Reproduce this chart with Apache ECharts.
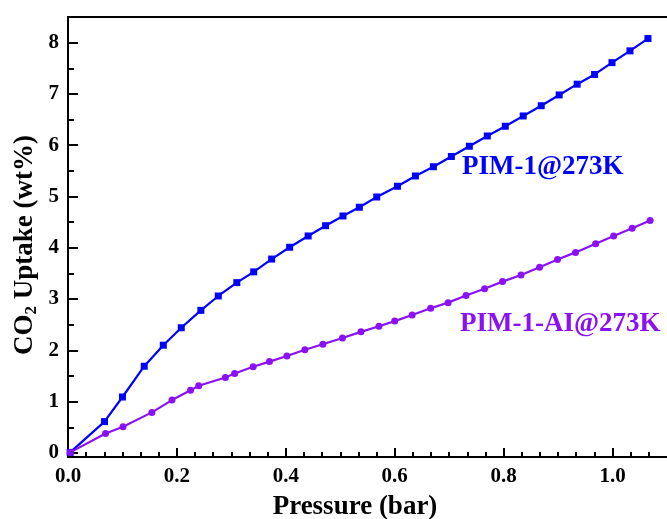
<!DOCTYPE html>
<html>
<head>
<meta charset="utf-8">
<script src="https://cdn.jsdelivr.net/npm/echarts@6/dist/echarts.min.js"></script>
<style>
  html, body { margin: 0; padding: 0; background: #ffffff; }
  #chart { width: 667px; height: 519px; }
</style>
</head>
<body>
<div id="chart"></div>
<script>
// CO2 adsorption isotherms at 273 K
const pim1Pressure = [0.004, 0.067, 0.100, 0.140, 0.175, 0.208, 0.244, 0.276, 0.310, 0.341,
  0.374, 0.407, 0.441, 0.473, 0.505, 0.535, 0.567, 0.605, 0.638, 0.671, 0.704, 0.737,
  0.770, 0.803, 0.836, 0.869, 0.902, 0.935, 0.967, 0.999, 1.032, 1.065];
const pim1Uptake = [0.01, 0.61, 1.09, 1.69, 2.10, 2.44, 2.78, 3.06, 3.32, 3.53,
  3.78, 4.01, 4.23, 4.43, 4.62, 4.79, 4.99, 5.20, 5.40, 5.58, 5.78, 5.98,
  6.18, 6.37, 6.57, 6.77, 6.98, 7.19, 7.38, 7.61, 7.84, 8.08];

const aiPressure = [0.004, 0.069, 0.101, 0.154, 0.191, 0.225, 0.240, 0.289, 0.306, 0.340,
  0.370, 0.402, 0.435, 0.468, 0.504, 0.538, 0.571, 0.600, 0.632, 0.666, 0.698, 0.731,
  0.765, 0.798, 0.832, 0.866, 0.899, 0.932, 0.969, 1.002, 1.036, 1.069];
const aiUptake = [0.01, 0.38, 0.51, 0.79, 1.03, 1.22, 1.31, 1.47, 1.55, 1.68,
  1.78, 1.89, 2.01, 2.12, 2.24, 2.36, 2.47, 2.57, 2.69, 2.82, 2.93, 3.07,
  3.20, 3.34, 3.47, 3.62, 3.77, 3.91, 4.08, 4.23, 4.38, 4.53];

// Axis ticks
const xMajorTicks = [0.0, 0.2, 0.4, 0.6, 0.8, 1.0];
const xMinorPerMajor = 6;
const yMajorTicks = [0, 1, 2, 3, 4, 5, 6, 7, 8];
const yMinorTicks = [0.5, 1.5, 2.5, 3.5, 4.5, 5.5, 6.5, 7.5];

const xRange = [0, 1.1];
const yRange = [-0.08, 8.5];

const FONT = "'Liberation Serif', 'Times New Roman', serif";
const BLUE = '#0000ff';
const VIOLET = '#8a10f6';

// minor x ticks: subdivide each 0.2 step, continuing past the last label
const xMinorTicks = [];
for (let i = 0; i < xMajorTicks.length; i++) {
  const step = 0.2 / xMinorPerMajor;
  for (let k = 1; k < xMinorPerMajor; k++) {
    const v = +(xMajorTicks[i] + k * step).toFixed(5);
    if (v < xRange[1]) xMinorTicks.push(v);
  }
}

const zip = (xs, ys) => xs.map((x, i) => [x, ys[i]]);

const axisLineStyle = { color: '#000', width: 2 };

const chart = echarts.init(document.getElementById('chart'), null, { renderer: 'canvas' });

chart.setOption({
  backgroundColor: '#ffffff',
  animation: false,
  grid: { left: 68, right: -1, top: 17, bottom: 62, containLabel: false },
  xAxis: [
    {
      type: 'value', position: 'bottom', min: xRange[0], max: xRange[1],
      axisLine: { show: true, onZero: false, lineStyle: axisLineStyle },
      axisTick: { show: true, inside: true, length: 9, lineStyle: { color: '#000', width: 2 },
        customValues: xMajorTicks },
      axisLabel: { show: true, customValues: xMajorTicks, margin: 9,
        fontFamily: FONT, fontWeight: 'bold', fontSize: 21, color: '#000',
        formatter: v => v.toFixed(1) },
      splitLine: { show: false }
    },
    {
      // minor ticks on the bottom axis
      type: 'value', position: 'bottom', min: xRange[0], max: xRange[1],
      axisLine: { show: false, onZero: false },
      axisTick: { show: true, inside: true, length: 5, lineStyle: { color: '#000', width: 2 },
        customValues: xMinorTicks },
      axisLabel: { show: false },
      splitLine: { show: false }
    },
    {
      // top frame line
      type: 'value', position: 'top', min: xRange[0], max: xRange[1],
      axisLine: { show: true, onZero: false, lineStyle: axisLineStyle },
      axisTick: { show: false }, axisLabel: { show: false }, splitLine: { show: false }
    }
  ],
  yAxis: [
    {
      type: 'value', position: 'left', min: yRange[0], max: yRange[1],
      axisLine: { show: true, onZero: false, lineStyle: axisLineStyle },
      axisTick: { show: true, inside: true, length: 10, lineStyle: { color: '#000', width: 2 },
        customValues: yMajorTicks },
      axisLabel: { show: true, customValues: yMajorTicks, margin: 9,
        fontFamily: FONT, fontWeight: 'bold', fontSize: 21, color: '#000' },
      splitLine: { show: false }
    },
    {
      // minor ticks on the left axis
      type: 'value', position: 'left', min: yRange[0], max: yRange[1],
      axisLine: { show: false, onZero: false },
      axisTick: { show: true, inside: true, length: 6, lineStyle: { color: '#000', width: 2 },
        customValues: yMinorTicks },
      axisLabel: { show: false },
      splitLine: { show: false }
    }
  ],
  series: [
    {
      name: 'PIM-1@273K', type: 'line', xAxisIndex: 0, yAxisIndex: 0,
      data: zip(pim1Pressure, pim1Uptake),
      symbol: 'rect', symbolSize: 7,
      lineStyle: { color: BLUE, width: 2.2 },
      itemStyle: { color: BLUE },
      z: 3
    },
    {
      name: 'PIM-1-AI@273K', type: 'line', xAxisIndex: 0, yAxisIndex: 0,
      data: zip(aiPressure, aiUptake),
      symbol: 'circle', symbolSize: 7,
      lineStyle: { color: VIOLET, width: 2.2 },
      itemStyle: { color: VIOLET },
      z: 4
    }
  ],
  graphic: [
    {
      type: 'text', left: 462, top: 154, z: 10,
      style: { text: 'PIM-1@273K', fill: BLUE, font: `bold 27px ${FONT}` }
    },
    {
      type: 'text', left: 460, top: 311, z: 10,
      style: { text: 'PIM-1-AI@273K', fill: VIOLET, font: `bold 27px ${FONT}` }
    },
    {
      // x axis title
      type: 'text', x: 355, y: 507, z: 10,
      style: { text: 'Pressure (bar)', fill: '#000', font: `bold 27px ${FONT}`,
        align: 'center', verticalAlign: 'middle' }
    },
    {
      // y axis title with subscript
      type: 'text', x: 25, y: 245, rotation: Math.PI / 2, z: 10,
      style: {
        text: '{m|CO}{s|2}{m| Uptake (wt%)}',
        align: 'center', verticalAlign: 'middle',
        rich: {
          m: { fontFamily: FONT, fontWeight: 'bold', fontSize: 27, fill: '#000', lineHeight: 30 },
          s: { fontFamily: FONT, fontWeight: 'bold', fontSize: 17, fill: '#000', lineHeight: 30,
            verticalAlign: 'bottom', padding: [14, 0, 0, 0] }
        }
      }
    }
  ]
});
</script>
</body>
</html>
